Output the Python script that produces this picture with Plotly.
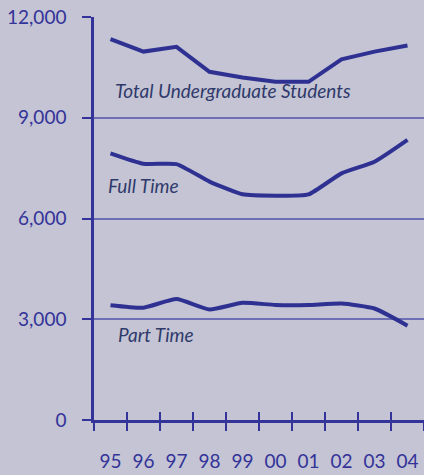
import plotly.graph_objects as go

years = ["95", "96", "97", "98", "99", "00", "01", "02", "03", "04"]
total = [11340, 10970, 11110, 10370, 10200, 10070, 10070, 10740, 10970, 11150]
full_time = [7940, 7630, 7620, 7100, 6720, 6680, 6720, 7345, 7690, 8340]
part_time = [3420, 3345, 3600, 3290, 3490, 3425, 3425, 3470, 3320, 2810]
y_ticks = [0, 3000, 6000, 9000, 12000]

BG = "#c4c4d4"
AX = "#333399"
LINE = "#2e3192"
GRID = "#6e6eb4"
LABEL = "#2f3a6b"

fig = go.Figure()
fig.add_trace(go.Scatter(x=years, y=total, mode="lines",
                         line=dict(color=LINE, width=4), hoverinfo="skip"))
fig.add_trace(go.Scatter(x=years, y=full_time, mode="lines",
                         line=dict(color=LINE, width=4, shape="spline", smoothing=0.5),
                         hoverinfo="skip"))
fig.add_trace(go.Scatter(x=years, y=part_time, mode="lines",
                         line=dict(color=LINE, width=4, shape="spline", smoothing=0.5),
                         hoverinfo="skip"))
# invisible trace to carry the inside-tick overlay axis
fig.add_trace(go.Scatter(x=years, y=total, mode="lines", xaxis="x2",
                         line=dict(color="rgba(0,0,0,0)", width=0), hoverinfo="skip"))

fig.update_layout(
    width=424, height=475,
    margin=dict(l=94, r=0, t=17, b=55),
    paper_bgcolor=BG, plot_bgcolor=BG,
    showlegend=False,
    font=dict(family="Lato, 'Open Sans', sans-serif", color=AX),
    xaxis=dict(type="category", categoryorder="array", categoryarray=years,
               range=[-0.5, 9.5], tickson="boundaries", ticks="outside",
               ticklen=8, tickwidth=1.5, tickcolor=AX,
               showline=True, linecolor=AX, linewidth=2.5,
               showgrid=False, zeroline=False, automargin=False,
               tickfont=dict(size=19, color=AX), ticklabelstandoff=22),
    xaxis2=dict(type="category", categoryorder="array", categoryarray=years,
                range=[-0.5, 9.5], tickson="boundaries", ticks="inside",
                ticklen=8, tickwidth=1.5, tickcolor=AX,
                overlaying="x", anchor="y", side="bottom", automargin=False,
                showline=False, showgrid=False, showticklabels=False, zeroline=False),
    yaxis=dict(range=[0, 12000], tickvals=y_ticks, tickformat=",",
               ticks="outside", ticklen=9, tickwidth=1.5, tickcolor=AX,
               showline=True, linecolor=AX, linewidth=2.5, automargin=False,
               showgrid=True, gridcolor=GRID, gridwidth=1.5, zeroline=False,
               tickfont=dict(size=19, color=AX), ticklabelstandoff=12),
)

annots = [
    ("Total Undergraduate Students", 0.058, 9800),
    ("Full Time", 0.036, 6970),
    ("Part Time", 0.067, 2560),
]
for txt, xp, yv in annots:
    fig.add_annotation(text="<i>" + txt + "</i>", xref="paper", x=xp, yref="y", y=yv,
                       xanchor="left", yanchor="middle", showarrow=False,
                       font=dict(size=19, color=LABEL, family="Lato, 'Open Sans', sans-serif"))

fig.write_html("out.html",
               config={"displayModeBar": False},
               post_script="document.body.style.margin='0';document.body.style.padding='0';"
                           "document.body.style.background='" + BG + "';")
